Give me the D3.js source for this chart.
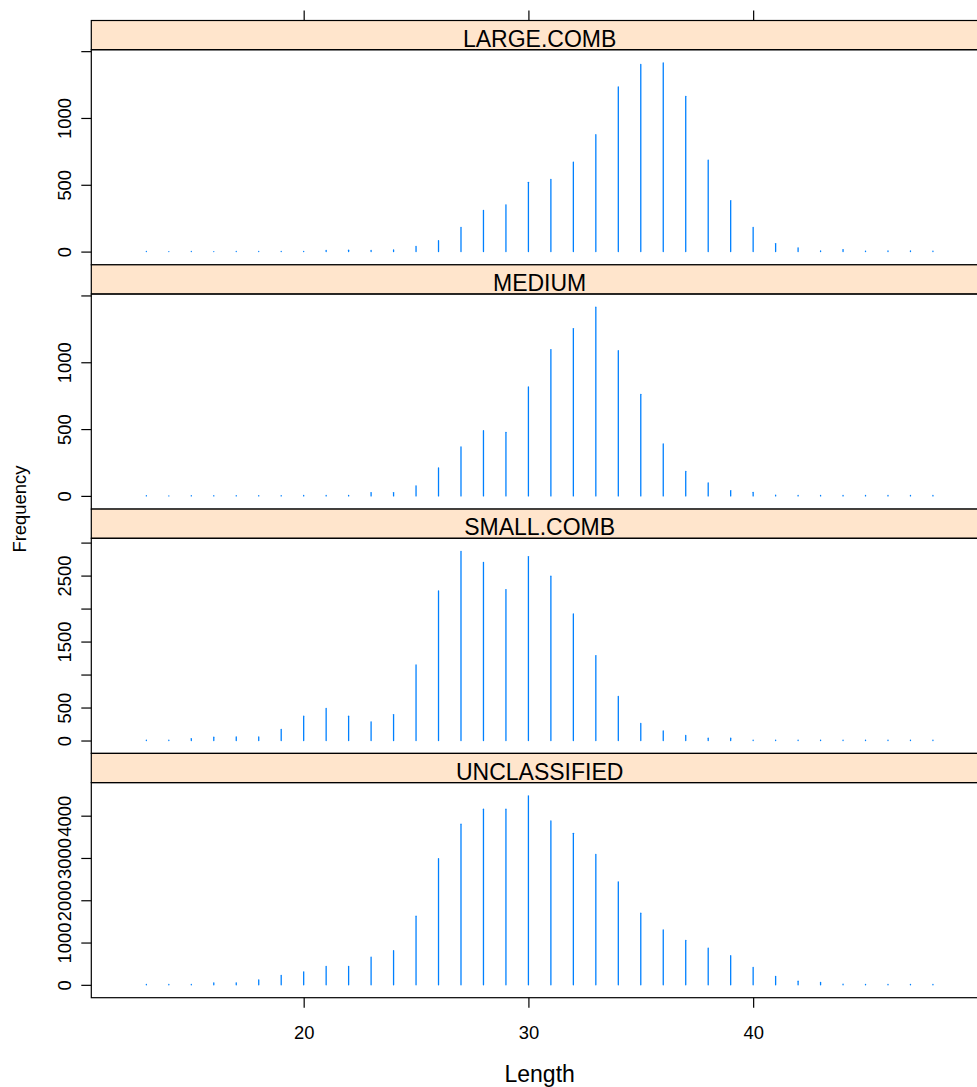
<!DOCTYPE html>
<html><head><meta charset="utf-8">
<script src="https://cdn.jsdelivr.net/npm/d3@7"></script>
<style>body{margin:0;background:#fff}svg{display:block;font-family:"Liberation Sans",Arial,Helvetica,sans-serif}</style>
</head><body><svg id="chart" width="977" height="1087"></svg>
<script>
// ---- data ----
const lengths = [13,14,15,16,17,18,19,20,21,22,23,24,25,26,27,28,29,30,31,32,33,34,35,36,37,38,39,40,41,42,43,44,45,46,47,48];
const panelNames = ["LARGE.COMB","MEDIUM","SMALL.COMB","UNCLASSIFIED"];
const largeComb = [1,0,1,0,1,1,2,2,8,10,8,12,38,82,181,308,350,518,540,670,875,1232,1400,1412,1162,685,382,181,60,28,5,15,4,5,5,4];
const medium = [1,0,1,1,1,2,2,3,3,4,25,25,75,209,366,488,476,815,1095,1252,1412,1086,760,389,184,97,40,27,5,4,3,4,3,3,3,3];
const smallComb = [5,5,30,50,55,55,167,369,485,369,283,394,1146,2267,2865,2700,2288,2788,2490,1919,1288,667,258,146,76,35,35,6,6,5,5,5,5,5,5,5];
const unclassified = [10,8,8,47,47,119,221,308,435,435,657,807,1622,2982,3797,4153,4153,4470,3876,3583,3085,2436,1693,1297,1052,870,688,411,198,87,55,16,12,12,12,12];
const xTicks = [20,30,40,50];
const xTickLabels = ["20","30","40",""];
const yTicks1 = [0,500,1000,1500];
const yTickLabels1 = ["0","500","1000",""];
const yTicks2 = [0,500,1000,1500];
const yTickLabels2 = ["0","500","1000",""];
const yTicks3 = [0,500,1000,1500,2000,2500,3000];
const yTickLabels3 = ["0","500","","1500","","2500",""];
const yTicks4 = [0,1000,2000,3000,4000];
const yTickLabels4 = ["0","1000","2000","3000","4000"];
const xLabel = "Length", yLabel = "Frequency";

const series = [largeComb, medium, smallComb, unclassified];
const yTicksAll = [yTicks1, yTicks2, yTicks3, yTicks4];
const yLabelsAll = [yTickLabels1, yTickLabels2, yTickLabels3, yTickLabels4];

// ---- layout ----
const svg = d3.select("#chart");
const left = 91.3, right = 988, top0 = 20.5, stripH = 29.2, panelH = 215.1, rowH = stripH + panelH;
const tickFont = 18.4, titleFont = 23, yTitleFont = 18.4;
const pad = 0.07;
const xMin = d3.min(lengths), xMax = d3.max(lengths), xr = xMax - xMin;
const x = d3.scaleLinear().domain([xMin - pad*xr, xMax + pad*xr]).range([left, right]);
const bottomAll = top0 + 4*rowH;

series.forEach((vals, i) => {
  const sTop = top0 + i*rowH;
  const pTop = sTop + stripH, pBot = pTop + panelH;
  const lo = d3.min(vals), hi = d3.max(vals), r = hi - lo;
  const y = d3.scaleLinear().domain([lo - pad*r, hi + pad*r]).range([pBot, pTop]);
  const g = svg.append("g");
  // strip
  g.append("rect").attr("x", left).attr("y", sTop).attr("width", right-left).attr("height", stripH)
    .attr("fill", "#ffe5cc").attr("stroke", "#000").attr("stroke-width", 1.2);
  g.append("text").attr("x", (left+right)/2).attr("y", sTop + stripH - 3)
    .attr("text-anchor","middle").attr("font-size", titleFont).attr("fill","#000").text(panelNames[i]);
  // bars
  g.selectAll("line.bar").data(vals).enter().append("line").attr("class","bar")
    .attr("x1",(d,j)=>x(lengths[j])).attr("x2",(d,j)=>x(lengths[j]))
    .attr("y1", y(0)).attr("y2", d=>y(d))
    .attr("stroke","#0080ff").attr("stroke-width",1.3).attr("stroke-linecap","round");
  // panel border
  g.append("rect").attr("x", left).attr("y", pTop).attr("width", right-left).attr("height", panelH)
    .attr("fill","none").attr("stroke","#000").attr("stroke-width",1.2);
  // y axis
  const ticks = yTicksAll[i], labs = yLabelsAll[i];
  const ax = d3.axisLeft(y).tickValues(ticks).tickSize(10).tickSizeOuter(0)
    .tickFormat((d,k)=>labs[k]);
  const ag = g.append("g").attr("transform", `translate(${left},0)`).call(ax);
  ag.select(".domain").remove();
  ag.selectAll(".tick line").attr("stroke","#000").attr("stroke-width",1.2);
  ag.selectAll(".tick text").attr("transform","rotate(-90)").attr("x",0).attr("y",-20.3).attr("dy",0)
    .attr("text-anchor","middle").attr("font-size",tickFont).attr("font-family",null).attr("fill","#000");
});

// bottom axis
const axB = d3.axisBottom(x).tickValues(xTicks).tickSize(10).tickSizeOuter(0).tickFormat((d,k)=>xTickLabels[k]);
const bg = svg.append("g").attr("transform",`translate(0,${bottomAll})`).call(axB);
bg.select(".domain").remove();
bg.selectAll(".tick line").attr("stroke","#000").attr("stroke-width",1.2);
bg.selectAll(".tick text").attr("y",41.6).attr("dy",0).attr("font-size",tickFont).attr("font-family",null).attr("fill","#000");
// top axis (ticks only)
const axT = d3.axisTop(x).tickValues(xTicks).tickSize(10).tickSizeOuter(0).tickFormat("");
const tg = svg.append("g").attr("transform",`translate(0,${top0})`).call(axT);
tg.select(".domain").remove();
tg.selectAll(".tick line").attr("stroke","#000").attr("stroke-width",1.2);

// axis titles
svg.append("text").attr("x",(left+right)/2).attr("y",1082).attr("text-anchor","middle")
  .attr("font-size",titleFont).attr("fill","#000").text(xLabel);
svg.append("text").attr("transform",`translate(26,${(top0+bottomAll)/2}) rotate(-90)`).attr("text-anchor","middle")
  .attr("font-size",yTitleFont).attr("fill","#000").text(yLabel);
</script></body></html>
